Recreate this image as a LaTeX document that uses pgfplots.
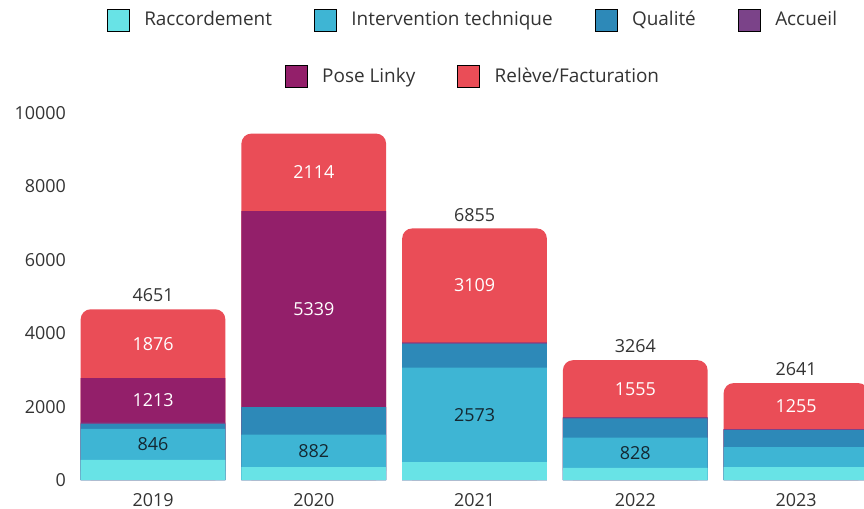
\documentclass[border=0pt]{standalone}
\usepackage{fontspec}
\setmainfont{Open Sans}
\usepackage{pgfplots}
\pgfplotsset{compat=1.18}
\usepackage{pgfplotstable}

\definecolor{raccC}{RGB}{104,227,230}
\definecolor{interC}{RGB}{62,181,212}
\definecolor{qualC}{RGB}{45,137,184}
\definecolor{accC}{RGB}{123,67,137}
\definecolor{poseC}{RGB}{147,31,106}
\definecolor{releveC}{RGB}{234,77,87}
\definecolor{txtC}{RGB}{51,51,51}
\definecolor{darkT}{RGB}{20,40,50}

% complaints per year, one column per category
\pgfplotstableread{
x racc inter qual accueil pose releve total
0 545 846 140 31 1213 1876 4651
1 354 882 750 0 5339 2114 9439
2 490 2573 654 29 0 3109 6855
3 330 828 518 33 0 1555 3264
4 354 545 457 30 0 1255 2641
}\data

\pgfplotsset{
  cum/.style={ybar, bar width=0.9, bar shift=0pt, draw=none, forget plot},
  lbl/.style={only marks, mark=none, forget plot, nodes near coords,
    point meta=explicit symbolic,
    every node near coord/.append style={anchor=center}},
  frame/.style={scale only axis, width=792bp, height=367bp,
    xmin=-0.504, xmax=4.423, ymin=0, ymax=10000},
  legstyle/.style={
    legend image code/.code={\fill[##1] (0bp,-11bp) rectangle (22bp,11bp);},
    legend style={draw=none, fill=none, anchor=center, text=txtC,
      font=\fontsize{19}{23}\selectfont,
      nodes={inner xsep=0pt},
      /tikz/every odd column/.append style={column sep=15bp},
      /tikz/every even column/.append style={column sep=42bp}}},
}

\begin{document}
\fontsize{18}{22}\selectfont
\begin{tikzpicture}[font=\fontsize{18}{22}\selectfont]
\begin{axis}[frame, legstyle,
  axis line style={draw=none}, major tick length=0pt,
  xtick={0,1,2,3,4}, xticklabels={2019,2020,2021,2022,2023},
  ytick={0,2000,...,10000}, scaled y ticks=false,
  yticklabel style={/pgf/number format/1000 sep={}, /pgf/number format/assume math mode=true},
  tick label style={text=txtC},
  xticklabel style={yshift=-7bp},
  legend columns=4,
  legend style={at={(0.505,1.254)}},
]
\addlegendimage{fill=raccC}\addlegendentry{Raccordement}
\addlegendimage{fill=interC}\addlegendentry{Intervention technique}
\addlegendimage{fill=qualC}\addlegendentry{Qualité}
\addlegendimage{fill=accC}\addlegendentry{Accueil}

% bars drawn from the top of each stack downwards
\addplot[cum, fill=releveC, rounded corners=10bp] table[x=x, y=total] {\data};
\addplot[cum, fill=poseC] table[x=x, y expr=\thisrow{racc}+\thisrow{inter}+\thisrow{qual}+\thisrow{accueil}+\thisrow{pose}] {\data};
\addplot[cum, fill=accC] table[x=x, y expr=\thisrow{racc}+\thisrow{inter}+\thisrow{qual}+\thisrow{accueil}] {\data};
\addplot[cum, fill=qualC] table[x=x, y expr=\thisrow{racc}+\thisrow{inter}+\thisrow{qual}] {\data};
\addplot[cum, fill=interC] table[x=x, y expr=\thisrow{racc}+\thisrow{inter}] {\data};
\addplot[cum, fill=raccC] table[x=x, y=racc] {\data};

% labels
\addplot[lbl, nodes near coords style={text=darkT}]
  table[x=x, y expr=\thisrow{racc}+0.5*\thisrow{inter}, meta=inter, skip coords between index={4}{5}] {\data};
\addplot[lbl, nodes near coords style={text=white}]
  table[x=x, y expr=\thisrow{racc}+\thisrow{inter}+\thisrow{qual}+\thisrow{accueil}+0.5*\thisrow{pose}, meta=pose, skip coords between index={2}{5}] {\data};
\addplot[lbl, nodes near coords style={text=white}]
  table[x=x, y expr=\thisrow{total}-0.5*\thisrow{releve}, meta=releve] {\data};
\addplot[lbl, nodes near coords style={text=txtC, anchor=south, yshift=1bp}]
  table[x=x, y=total, meta=total, skip coords between index={1}{2}] {\data};
\end{axis}

\begin{axis}[frame, legstyle, hide axis,
  legend columns=2,
  legend style={at={(0.505,1.100)}},
]
\addlegendimage{fill=poseC}\addlegendentry{Pose Linky}
\addlegendimage{fill=releveC}\addlegendentry{Relève/Facturation}
\end{axis}

\pgfresetboundingbox
\path (-72bp,-29bp) rectangle (792bp,480bp);
\end{tikzpicture}
\end{document}
